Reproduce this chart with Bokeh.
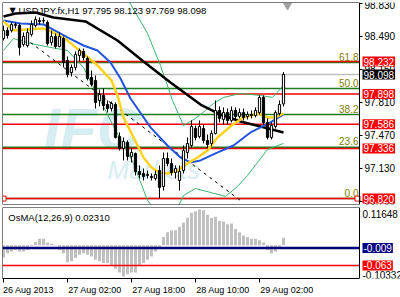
from bokeh.plotting import figure
from bokeh.layouts import column
from bokeh.models import Range1d, FixedTicker, PrintfTickFormatter, Label, LinearAxis
from bokeh.core.properties import value
from bokeh.embed import file_html
from bokeh.resources import INLINE

FONT = "Liberation Sans"

# ---------------- data ----------------
time_ticks = [0, 16, 32, 48, 64]
time_labels = ["26 Aug 2013", "27 Aug 02:00", "27 Aug 18:00", "28 Aug 10:00", "29 Aug 02:00"]

opens = [98.469, 98.552, 98.552, 98.603, 98.603, 98.408, 98.397, 98.511, 98.603, 98.655,
         98.655, 98.634, 98.428, 98.490, 98.387, 98.469, 98.243, 98.119, 98.171, 98.294,
         98.336, 98.263, 98.068, 98.037, 97.831, 97.882, 97.789, 97.748, 97.789, 97.460,
         97.336, 97.398, 97.254, 97.285, 97.099, 97.079, 97.058, 97.048, 97.027, 97.109,
         96.945, 97.233, 97.182, 97.089, 97.006, 97.109, 97.295, 97.367, 97.542, 97.460,
         97.542, 97.419, 97.388, 97.491, 97.728, 97.635, 97.707, 97.625, 97.728, 97.666,
         97.707, 97.666, 97.686, 97.676, 97.707, 97.862, 97.604, 97.450, 97.563, 97.697,
         97.795]
highs = [98.603, 98.583, 98.634, 98.634, 98.624, 98.531, 98.573, 98.655, 98.696, 98.686,
         98.686, 98.655, 98.552, 98.521, 98.531, 98.490, 98.284, 98.202, 98.336, 98.366,
         98.366, 98.284, 98.140, 98.088, 97.944, 97.954, 97.831, 97.820, 97.810, 97.501,
         97.450, 97.419, 97.336, 97.295, 97.161, 97.130, 97.109, 97.079, 97.109, 97.161,
         97.295, 97.295, 97.233, 97.161, 97.161, 97.367, 97.450, 97.625, 97.573, 97.625,
         97.583, 97.481, 97.522, 97.831, 97.769, 97.759, 97.748, 97.769, 97.759, 97.748,
         97.748, 97.717, 97.728, 97.759, 97.882, 97.882, 97.646, 97.604, 97.728, 97.831,
         98.123]
lows = [98.449, 98.469, 98.531, 98.573, 98.294, 98.387, 98.377, 98.490, 98.583, 98.614,
        98.624, 98.397, 98.397, 98.366, 98.377, 98.171, 98.068, 98.078, 98.140, 98.233,
        98.243, 98.037, 97.975, 97.748, 97.769, 97.728, 97.707, 97.717, 97.439, 97.316,
        97.213, 97.213, 97.192, 97.058, 97.027, 97.006, 97.027, 97.006, 97.006, 96.821,
        96.903, 97.151, 97.058, 97.027, 96.903, 97.079, 97.233, 97.346, 97.419, 97.439,
        97.388, 97.336, 97.357, 97.481, 97.604, 97.583, 97.583, 97.604, 97.635, 97.646,
        97.625, 97.635, 97.646, 97.656, 97.686, 97.583, 97.429, 97.429, 97.542, 97.676,
        97.769]
closes = [98.552, 98.500, 98.614, 98.614, 98.377, 98.490, 98.531, 98.614, 98.665, 98.645,
          98.650, 98.418, 98.490, 98.387, 98.490, 98.222, 98.099, 98.171, 98.305, 98.346,
          98.274, 98.057, 97.996, 97.810, 97.893, 97.779, 97.748, 97.800, 97.450, 97.336,
          97.408, 97.254, 97.295, 97.099, 97.068, 97.048, 97.068, 97.037, 97.068, 96.935,
          97.233, 97.182, 97.089, 97.130, 97.099, 97.316, 97.388, 97.563, 97.450, 97.563,
          97.419, 97.377, 97.491, 97.728, 97.646, 97.707, 97.625, 97.728, 97.666, 97.707,
          97.656, 97.686, 97.676, 97.728, 97.862, 97.604, 97.450, 97.573, 97.707, 97.789,
          98.098]
bars = list(range(len(closes)))

# moving averages / bands (bar index, price)
ma_fast_x = [0, 2.5, 5.5, 10, 13, 16, 19, 23, 27, 28.5, 30, 32.5, 35, 37, 39, 41, 43.5, 46,
             48.5, 51, 53.5, 57, 60, 63.5, 66, 68, 70]
ma_fast_y = [98.645, 98.552, 98.562, 98.573, 98.521, 98.449, 98.346, 98.212, 98.037, 97.882,
             97.656, 97.450, 97.243, 97.140, 97.089, 97.079, 97.109, 97.182, 97.243, 97.316,
             97.450, 97.573, 97.656, 97.697, 97.656, 97.656, 97.697]
ma_mid_x = [0, 4.25, 10, 16, 20, 23.5, 26.75, 29.25, 31.75, 36.75, 41, 44.25, 46.75, 49.25,
            53, 57.5, 61.75, 64.25, 66.75, 70]
ma_mid_y = [98.655, 98.624, 98.614, 98.480, 98.397, 98.346, 98.222, 98.057, 97.851, 97.553,
            97.367, 97.243, 97.192, 97.213, 97.285, 97.367, 97.501, 97.553, 97.604, 97.686]
ma_slow_x = [0, 3, 8, 12.5, 20.5, 28.5, 35, 41.75, 49.25, 54.25, 59.25, 64.25, 70]
ma_slow_y = [98.696, 98.727, 98.737, 98.686, 98.645, 98.449, 98.233, 98.016, 97.789, 97.686,
             97.614, 97.563, 97.501]
bb_up_x = [28, 31.25, 36, 39.25, 42.25, 45, 48, 50.5, 52.5, 55, 59.25, 64.25, 67.25, 70]
bb_up_y = [98.95, 98.861, 98.521, 98.191, 97.831, 97.573, 97.646, 97.728, 97.800, 97.862,
           97.903, 97.882, 97.862, 97.985]
bb_lo_x = [0, 2.5, 6.75, 11.75, 16, 20, 22.5, 24.25, 26.75, 32.5, 36, 39.25, 43, 45, 48,
           51.75, 55.5, 58.5, 61, 63.5, 66, 70]
bb_lo_y = [98.346, 98.469, 98.418, 98.377, 98.346, 98.171, 97.965, 97.831, 97.625, 97.182,
           96.800, 96.646, 96.677, 96.852, 96.924, 96.883, 96.842, 96.945, 97.058, 97.192,
           97.326, 97.388]
trend_x = [6.75, 59.25]
trend_y = [98.428, 96.800]

price_ticks = [98.83, 98.49, 98.15, 97.81, 97.47, 97.13, 96.79]
fib_levels = [98.221, 97.954, 97.686, 97.350, 96.820]
fib_labels = ["61.8", "50.0", "38.2", "23.6", "0.0"]
red_levels = [98.232, 97.898, 97.586, 97.336, 96.820]
bid = 98.098
title = "USDJPY.fx,H1  97.795 98.123 97.769 98.098"

osma = [-0.038, -0.025, -0.020, -0.015, -0.020, -0.020, -0.015, -0.003, 0.010, 0.020,
        0.020, 0.008, 0.004, -0.002, -0.015, -0.025, -0.053, -0.050, -0.040, -0.030,
        -0.025, -0.030, -0.035, -0.045, -0.050, -0.055, -0.055, -0.063, -0.073, -0.085,
        -0.097, -0.090, -0.085, -0.085, -0.065, -0.055, -0.045, -0.035, -0.020, -0.010,
        0.025, 0.040, 0.045, 0.046, 0.057, 0.070, 0.085, 0.100, 0.105, 0.110,
        0.108, 0.094, 0.085, 0.088, 0.075, 0.073, 0.065, 0.067, 0.050, 0.040,
        0.030, 0.025, 0.020, 0.020, 0.015, 0.008, -0.015, -0.025, -0.020, -0.010,
        0.0231]
osma_title = "OsMA(12,26,9) 0.02310"
osma_max, osma_min = 0.11648, -0.10332
osma_blue, osma_red = -0.009, -0.063

# ---------------- helpers ----------------
X0, X1 = -0.25, 89.0          # chart area in bar units (right edge = price scale)
XR = Range1d(-0.25, 99.25)    # whole canvas width incl. price-scale strip
BOX_X = 89.75

_W = {" ": 0.278, ":": 0.278, ".": 0.278, "A": 0.667, "u": 0.556, "g": 0.556}


def left_pad(s, first=False, size=9.0):
    # axis labels are centred on the tick; pad with no-break spaces so the
    # visible text starts at the tick, as in MetaTrader (the first label is
    # pushed inside the canvas by Bokeh anyway)
    if first:
        return "\u00a0" + s
    w = sum(_W.get(ch, 0.556) for ch in s) * size
    n = int(w / (0.278 * size)) + 1
    return "\u00a0" * n + s


def border(p, side, loc, bounds=None):
    ax = LinearAxis(ticker=FixedTicker(ticks=[]), fixed_location=loc,
                    axis_line_color="black", axis_line_width=1,
                    major_tick_out=0, major_tick_in=0, minor_tick_out=0, minor_tick_in=0,
                    major_label_text_font_size="0px", major_label_standoff=0)
    if bounds is not None:
        ax.bounds = bounds
    p.add_layout(ax, side)


def box_label(p, y, text, bg, baseline="middle"):
    p.add_layout(Label(x=BOX_X, y=y, text=text, text_font=FONT, text_font_size="10px",
                       text_baseline=baseline, text_color="white" if bg else "black",
                       background_fill_color=bg, padding=1))


# ---------------- main price panel ----------------
Y1 = Range1d(96.759, 98.840)
p1 = figure(width=400, height=205, x_range=XR, y_range=Y1, x_axis_location=None,
            y_axis_location="right", toolbar_location=None, output_backend="svg",
            min_border_left=2, min_border_right=0, min_border_top=2, min_border_bottom=1)
p1.grid.visible = False
p1.outline_line_color = None
p1.border_fill_color = "white"
ya = p1.right[0]
ya.fixed_location = X1
ya.ticker = FixedTicker(ticks=price_ticks)
ya.formatter = PrintfTickFormatter(format="%.3f")
ya.major_label_text_font = FONT
ya.major_label_text_font_size = "10px"
ya.major_label_text_color = "black"
ya.major_tick_out = 3
ya.major_tick_in = 0
ya.minor_tick_out = 0
ya.minor_tick_in = 0
ya.major_label_standoff = 2
ya.axis_line_color = "black"
border(p1, "left", X0)
border(p1, "above", Y1.end, (X0, X1))
border(p1, "below", Y1.start, (X0, X1))

# watermark
p1.text(x=[10], y=[97.182], text=["IFC"], text_font=value(FONT), text_font_size="60px",
        text_font_style="bold italic", text_color="#d6eef2", text_baseline="bottom")
p1.text(x=[26], y=[96.965], text=["Markets"], text_font=value(FONT), text_font_size="26px",
        text_font_style="italic", text_color="#d6eef2", text_baseline="bottom")

# horizontal levels (chart area only)
n_f = len(fib_levels)
p1.segment(x0=[X0] * n_f, x1=[X1] * n_f, y0=fib_levels, y1=fib_levels,
           line_color="#1b7c1b", line_width=1.5)
n_r = len(red_levels)
p1.segment(x0=[X0] * n_r, x1=[X1] * n_r, y0=red_levels, y1=red_levels,
           line_color="#ff0000", line_width=1.5)
p1.segment(x0=[X0], x1=[X1], y0=[bid], y1=[bid], line_color="#c0c0c0", line_width=1.5)

p1.text(x=[88.75] * n_f, y=fib_levels, text=fib_labels, text_align="right",
        text_baseline="bottom", text_font=value(FONT), text_font_size="10px",
        text_color="#808000", y_offset=-2)

# indicators
p1.line(bb_up_x, bb_up_y, line_color="#3cb371", line_width=1)
p1.line(bb_lo_x, bb_lo_y, line_color="#3cb371", line_width=1)
p1.line(trend_x, trend_y, line_color="black", line_width=1, line_dash="3 4")
p1.line(ma_slow_x, ma_slow_y, line_color="black", line_width=2.5)
p1.line(ma_mid_x, ma_mid_y, line_color="#2255dd", line_width=2)
p1.line(ma_fast_x, ma_fast_y, line_color="#ffd21f", line_width=2.5)

# candles
p1.segment(x0=bars, x1=bars, y0=lows, y1=highs, line_color="black", line_width=1)
tops = [max(o, c) for o, c in zip(opens, closes)]
bots = [min(o, c) for o, c in zip(opens, closes)]
fills = ["white" if c >= o else "black" for o, c in zip(opens, closes)]
p1.vbar(x=bars, width=0.55, top=tops, bottom=bots, fill_color=fills, line_color="black",
        line_width=1)

# fib anchors and shift marker
p1.scatter(x=[0, 88.5], y=[96.820, 96.820], marker="square", size=5, fill_color="white",
           line_color="red", line_width=1)
p1.scatter(x=[71], y=[98.81], marker="inverted_triangle", size=8, fill_color="#a0a0a0",
           line_color="#a0a0a0")

p1.add_layout(Label(x=1.5, y=98.758, text="\u25bc", text_font="DejaVu Sans",
                    text_font_size="8px", text_baseline="middle", text_color="black"))
p1.add_layout(Label(x=3.75, y=98.758, text=title, text_font=FONT, text_font_size="9.5px",
                    text_baseline="middle", text_color="black"))

for lv in red_levels:
    box_label(p1, lv, f"{lv:.3f}", "#ff0000")
box_label(p1, bid, f"{bid:.3f}", "black")

# ---------------- OsMA panel ----------------
Y2 = Range1d(osma_min, osma_max)
p2 = figure(width=400, height=92, x_range=XR, y_range=Y2,
            y_axis_location="right", toolbar_location=None, output_backend="svg",
            min_border_left=2, min_border_right=0, min_border_top=2, min_border_bottom=19)
p2.grid.visible = False
p2.outline_line_color = None
y2 = p2.right[0]
y2.fixed_location = X1
y2.ticker = FixedTicker(ticks=[])
y2.axis_line_color = "black"
y2.major_tick_out = 0
y2.minor_tick_out = 0
y2.major_label_text_font_size = "0px"

xa = p2.below[0]
xa.bounds = (X0, X1)
xa.ticker = FixedTicker(ticks=time_ticks)
xa.major_label_overrides = {t: left_pad(s, first=(i == 0))
                            for i, (t, s) in enumerate(zip(time_ticks, time_labels))}
xa.major_label_text_font = FONT
xa.major_label_text_font_size = "9px"
xa.major_label_text_color = "black"
xa.major_tick_out = 4
xa.major_tick_in = 0
xa.minor_tick_out = 0
xa.minor_tick_in = 0
xa.major_label_standoff = 2
xa.axis_line_color = "black"

border(p2, "left", X0)
border(p2, "above", Y2.end, (X0, X1))

p2.vbar(x=bars, width=0.75, top=osma, bottom=0, fill_color="#c0c0c0", line_color=None)
p2.segment(x0=[X0], x1=[X1], y0=[osma_blue], y1=[osma_blue], line_color="#000080",
           line_width=2.5)
p2.segment(x0=[X0], x1=[X1], y0=[osma_red], y1=[osma_red], line_color="#ff0000",
           line_width=1.5)

p2.add_layout(Label(x=1.2, y=osma_max, text=osma_title, text_font=FONT, text_font_size="9.5px",
                    text_baseline="top", text_color="black", y_offset=-4))
p2.add_layout(Label(x=BOX_X, y=osma_max, text=f"{osma_max:.5f}", text_font=FONT,
                    text_font_size="10px", text_baseline="top", text_color="black",
                    y_offset=-2))
p2.add_layout(Label(x=BOX_X, y=osma_min, text=f"{osma_min:.5f}", text_font=FONT,
                    text_font_size="10px", text_baseline="bottom", text_color="black"))
box_label(p2, osma_blue, f"{osma_blue:.3f}", "#000080")
box_label(p2, osma_red, f"{osma_red:.3f}", "#ff0000")

layout = column(p1, p2, spacing=0)
open("out.html", "w").write(file_html(layout, INLINE))
